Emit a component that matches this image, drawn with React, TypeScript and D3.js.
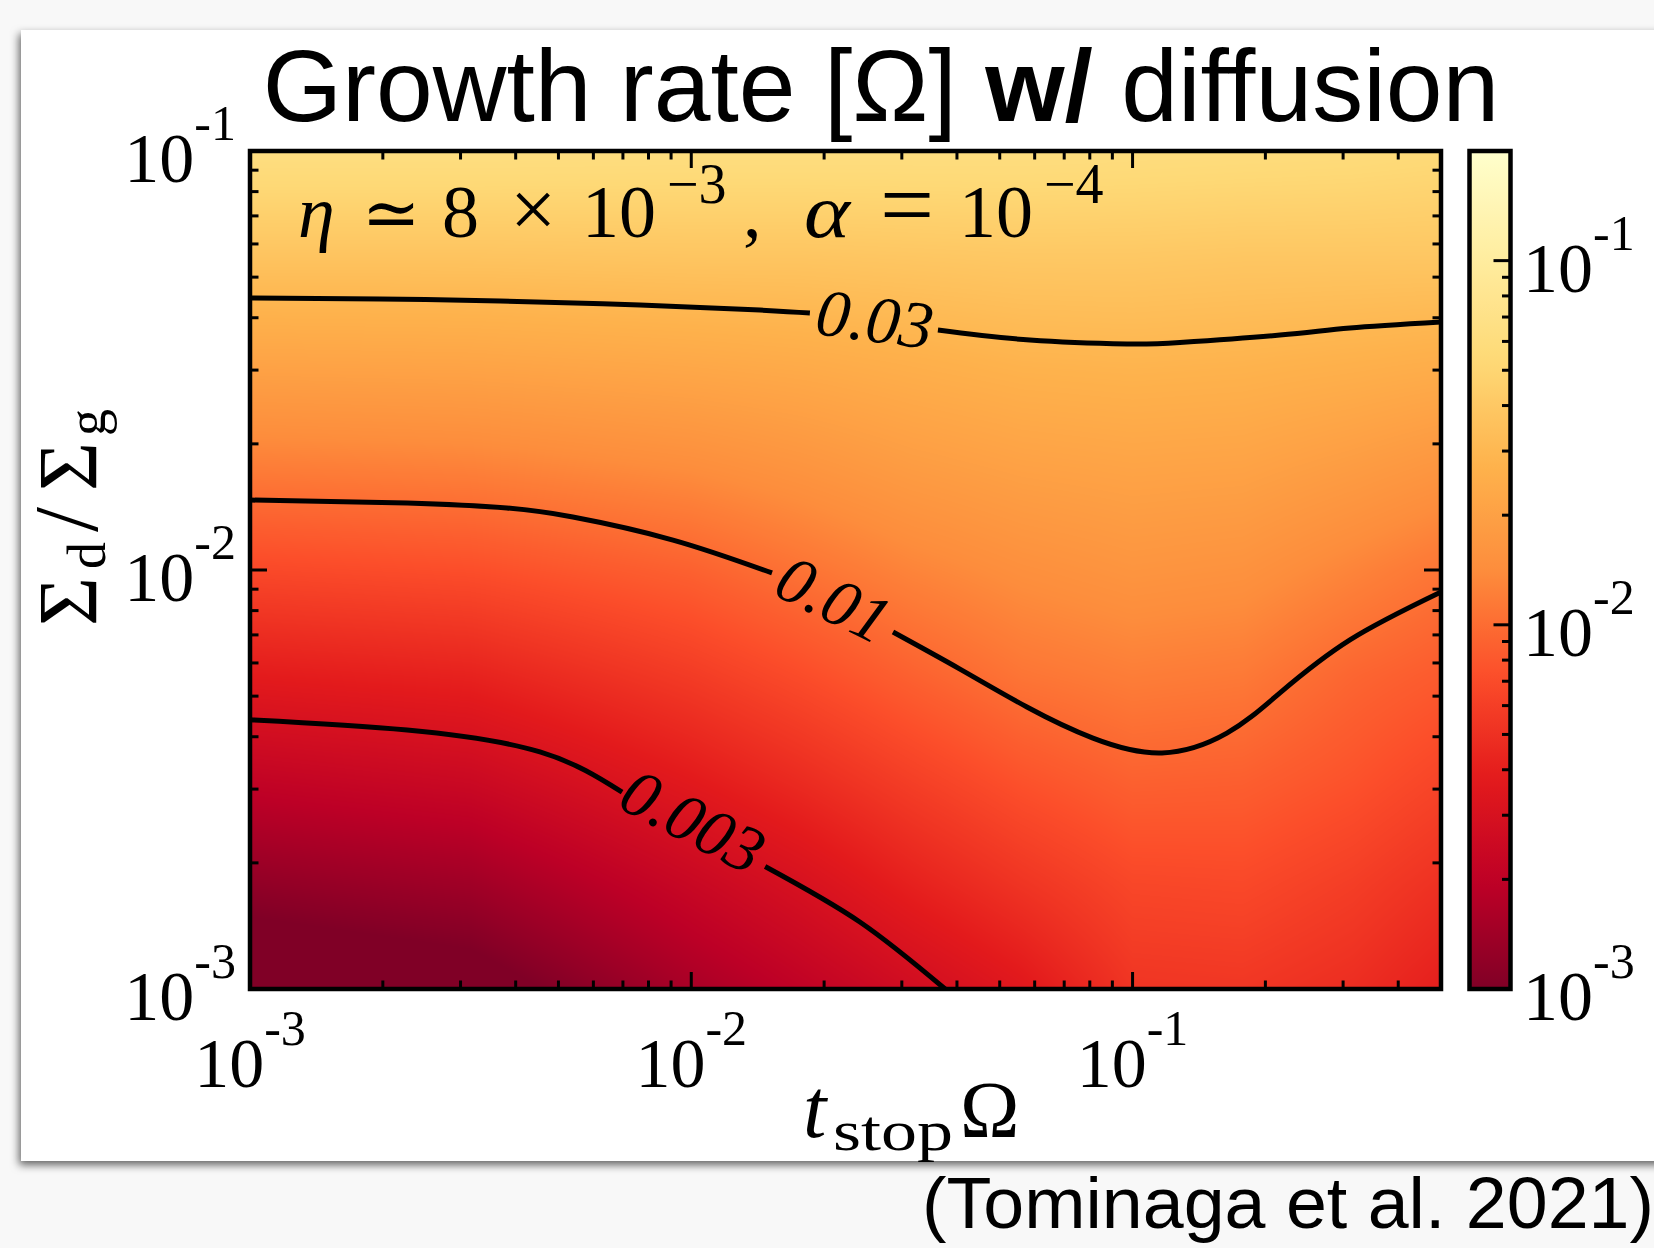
import React, { useMemo } from 'react';
import * as d3 from 'd3';

const WIDTH = 1654;
const HEIGHT = 1248;

// ---------- data ----------
// grid of log10(t_stop Omega) (columns) and log10(Sigma_d/Sigma_g) (rows)
const gridLogT = [-3, -2.5, -2, -1.75, -1.5, -1.25, -1, -0.75, -0.5, -0.3];
const gridLogSigma = [-3, -2.75, -2.5, -2.25, -2, -1.75, -1.5, -1.25, -1];
// log10(growth rate), one row per gridLogSigma value (bottom -> top)
const logRateS300 = [-3.17, -3.09, -2.81, -2.69, -2.57, -2.45, -2.28, -2.27, -2.32, -2.4];
const logRateS275 = [-2.92, -2.85, -2.63, -2.52, -2.39, -2.28, -2.18, -2.17, -2.23, -2.3];
const logRateS250 = [-2.67, -2.61, -2.43, -2.33, -2.22, -2.12, -2.05, -2.06, -2.12, -2.19];
const logRateS225 = [-2.42, -2.38, -2.24, -2.15, -2.05, -1.96, -1.92, -1.94, -2.03, -2.08];
const logRateS200 = [-2.17, -2.14, -2.05, -1.97, -1.89, -1.83, -1.79, -1.81, -1.89, -1.96];
const logRateS175 = [-1.92, -1.9, -1.84, -1.79, -1.73, -1.69, -1.67, -1.68, -1.73, -1.78];
const logRateS150 = [-1.67, -1.66, -1.63, -1.61, -1.58, -1.55, -1.54, -1.55, -1.57, -1.59];
const logRateS125 = [-1.43, -1.43, -1.42, -1.42, -1.41, -1.4, -1.4, -1.41, -1.41, -1.41];
const logRateS100 = [-1.2, -1.2, -1.21, -1.21, -1.21, -1.21, -1.22, -1.23, -1.24, -1.26];
const logRateRows = [logRateS300, logRateS275, logRateS250, logRateS225, logRateS200, logRateS175, logRateS150, logRateS125, logRateS100];

// contour lines (t_stop Omega, Sigma_d/Sigma_g), split where the label sits
const c003T_a = [0.001, 0.00227, 0.00454, 0.00697];
const c003S_a = [0.00439, 0.00415, 0.00368, 0.00295];
const c003T_b = [0.0147, 0.0241, 0.0376];
const c003S_b = [0.00196, 0.001445, 0.001];
const c003Label = [0.0101, 0.00252];

const c01T_a = [0.001, 0.00227, 0.00382, 0.00539, 0.00909, 0.01524];
const c01S_a = [0.01469, 0.01445, 0.01406, 0.01338, 0.01179, 0.00984];
const c01T_b = [0.02865, 0.04063, 0.05762, 0.08133, 0.1166, 0.1636, 0.2158, 0.3109, 0.5];
const c01S_b = [0.00711, 0.0058, 0.00471, 0.00397, 0.00366, 0.00408, 0.00509, 0.00681, 0.00886];
const c01Label = [0.02105, 0.00853];

const c03T_a = [0.001, 0.00197, 0.00369, 0.00765, 0.01431, 0.01857];
const c03S_a = [0.04457, 0.04433, 0.04385, 0.0429, 0.04173, 0.04105];
const c03T_b = [0.03622, 0.05853, 0.09712, 0.128, 0.2158, 0.3109, 0.5];
const c03S_b = [0.03739, 0.03539, 0.03463, 0.03491, 0.03637, 0.03781, 0.03907];
const c03Label = [0.02607, 0.03979];

const contourLabels = ['0.003', '0.01', '0.03'];

const xMajorTicks = [1e-3, 1e-2, 1e-1];
const xMajorExps = ['-3', '-2', '-1'];
const yMajorTicks = [1e-3, 1e-2, 1e-1];
const yMajorExps = ['-3', '-2', '-1'];
const cbMajorTicks = [1e-3, 1e-2, 1e-1];
const cbMajorExps = ['-3', '-2', '-1'];

const rateMin = 1e-3;
const rateMax = 0.2;
const tMin = 1e-3;
const tMax = 0.5;
const sMin = 1e-3;
const sMax = 1e-1;

// matplotlib YlOrRd (light -> dark), used reversed
const ylOrRd = ['#ffffcc', '#ffeda0', '#fed976', '#feb24c', '#fd8d3c', '#fc4e2a', '#e31a1c', '#bd0026', '#800026'];

const SERIF = "'Liberation Serif', 'Times New Roman', 'DejaVu Serif', serif";
const SANS = "'Liberation Sans', Arial, Helvetica, sans-serif";

const PL = 250, PR = 1441, PT = 151, PB = 989;
const CBL = 1469.5, CBR = 1510.5;

function zip(a: number[], b: number[]): [number, number][] {
  return a.map((v, i) => [v, b[i]] as [number, number]);
}

function findCell(arr: number[], v: number): [number, number] {
  let i = d3.bisectRight(arr, v) - 1;
  if (i < 0) i = 0;
  if (i > arr.length - 2) i = arr.length - 2;
  let f = (v - arr[i]) / (arr[i + 1] - arr[i]);
  f = Math.max(0, Math.min(1, f));
  return [i, f];
}

export default function App() {
  const x = d3.scaleLog().domain([tMin, tMax]).range([PL, PR]);
  const y = d3.scaleLog().domain([sMin, sMax]).range([PB, PT]);
  const cb = d3.scaleLog().domain([rateMin, rateMax]).range([PB, PT]);
  const norm = d3.scaleLog().domain([rateMin, rateMax]).range([0, 1]).clamp(true);
  const cmap = d3
    .scaleLinear<string>()
    .domain(ylOrRd.map((_, i) => i / (ylOrRd.length - 1)))
    .range([...ylOrRd].reverse())
    .interpolate(d3.interpolateRgb)
    .clamp(true);

  const heatHref = useMemo(() => {
    const w = Math.round(PR - PL);
    const h = Math.round(PB - PT);
    const canvas = document.createElement('canvas');
    canvas.width = w;
    canvas.height = h;
    const ctx = canvas.getContext('2d');
    if (!ctx) return '';
    const img = ctx.createImageData(w, h);
    const N = 1024;
    const lut = d3.range(N).map((i) => {
      const c = d3.rgb(cmap(i / (N - 1)));
      return [c.r, c.g, c.b];
    });
    const colInfo = d3.range(w).map((i) => findCell(gridLogT, Math.log10(x.invert(PL + i + 0.5))));
    for (let j = 0; j < h; j++) {
      const ly = Math.log10(y.invert(PT + j + 0.5));
      const [r, fr] = findCell(gridLogSigma, ly);
      const row0 = logRateRows[r];
      const row1 = logRateRows[r + 1];
      for (let i = 0; i < w; i++) {
        const [c, fc] = colInfo[i];
        const v00 = row0[c], v01 = row0[c + 1], v10 = row1[c], v11 = row1[c + 1];
        const L = (v00 * (1 - fc) + v01 * fc) * (1 - fr) + (v10 * (1 - fc) + v11 * fc) * fr;
        const n = norm(Math.pow(10, L));
        const col = lut[Math.round(n * (N - 1))];
        const k = (j * w + i) * 4;
        img.data[k] = col[0];
        img.data[k + 1] = col[1];
        img.data[k + 2] = col[2];
        img.data[k + 3] = 255;
      }
    }
    ctx.putImageData(img, 0, 0);
    return canvas.toDataURL();
  }, []);

  const line = d3
    .line<[number, number]>()
    .x((d) => x(d[0]))
    .y((d) => y(d[1]))
    .curve(d3.curveNatural);

  const contours = [
    { a: zip(c003T_a, c003S_a), b: zip(c003T_b, c003S_b), label: c003Label, text: contourLabels[0] },
    { a: zip(c01T_a, c01S_a), b: zip(c01T_b, c01S_b), label: c01Label, text: contourLabels[1] },
    { a: zip(c03T_a, c03S_a), b: zip(c03T_b, c03S_b), label: c03Label, text: contourLabels[2] },
  ];

  const isMajor = (v: number) => Math.abs(Math.log10(v) - Math.round(Math.log10(v))) < 1e-6;
  const xTicks = x.ticks();
  const yTicks = y.ticks();
  const cbTicks = cb.ticks().filter((v) => v < rateMax * 0.999);
  const MAJ = 17;
  const MIN = 8.5;

  const gradStops = d3.range(0, 1.0001, 0.02);

  return (
    <svg width={WIDTH} height={HEIGHT} style={{ position: 'absolute', left: 0, top: 0 }} xmlns="http://www.w3.org/2000/svg">
      <defs>
        <filter id="cardShadow" x="-5%" y="-5%" width="115%" height="115%">
          <feDropShadow dx={-2} dy={4} stdDeviation={4.5} floodColor="#000" floodOpacity={0.6} />
        </filter>
        <linearGradient id="cbGrad" x1="0" y1="1" x2="0" y2="0">
          {gradStops.map((s) => (
            <stop key={s} offset={s} stopColor={cmap(s)} />
          ))}
        </linearGradient>
        <clipPath id="plotClip">
          <rect x={PL} y={PT} width={PR - PL} height={PB - PT} />
        </clipPath>
      </defs>
      <rect x={0} y={0} width={WIDTH} height={HEIGHT} fill="#f8f8f8" />
      <rect x={21} y={30} width={1720} height={1131} fill="#ffffff" filter="url(#cardShadow)" />

      {/* Title */}
      <text x={881} y={121} textAnchor="middle" fontFamily={SANS} fontSize={102} fill="#000">
        Growth rate [Ω]{' '}
        <tspan fontWeight="bold">w/</tspan> diffusion
      </text>

      {/* heatmap */}
      {heatHref && (
        <image href={heatHref} x={PL} y={PT} width={PR - PL} height={PB - PT} preserveAspectRatio="none" />
      )}

      {/* contours */}
      <g clipPath="url(#plotClip)" fill="none" stroke="#000" strokeWidth={5}>
        {contours.map((c, i) => (
          <g key={i}>
            <path d={line(c.a) || ''} />
            <path d={line(c.b) || ''} />
          </g>
        ))}
      </g>
      {contours.map((c, i) => {
        const pa = c.a[c.a.length - 1];
        const pb = c.b[0];
        const ang = (Math.atan2(y(pb[1]) - y(pa[1]), x(pb[0]) - x(pa[0])) * 180) / Math.PI;
        const lx = x(c.label[0]);
        const ly = y(c.label[1]);
        return (
          <text
            key={'l' + i}
            x={lx}
            y={ly}
            transform={`rotate(${ang} ${lx} ${ly})`}
            textAnchor="middle"
            dominantBaseline="central"
            fontFamily={SERIF}
            fontStyle="italic"
            fontSize={67}
            fill="#000"
          >
            {c.text}
          </text>
        );
      })}

      {/* annotation */}
      <g fontFamily={SERIF} fill="#000">
        <text x={298} y={237} fontSize={74} fontStyle="italic">η</text>
        <text x={362} y={237} fontSize={70} fontFamily="'DejaVu Serif', serif">≃</text>
        <text x={442} y={237} fontSize={74}>8</text>
        <text x={510} y={237} fontSize={82}>×</text>
        <text x={582} y={237} fontSize={74}>10</text>
        <text x={667} y={203} fontSize={56}>−3</text>
        <text x={743} y={237} fontSize={74}>,</text>
        <text x={804} y={237} fontSize={76} fontStyle="italic" textLength={46} lengthAdjust="spacingAndGlyphs">α</text>
        <text x={880} y={237} fontSize={96}>=</text>
        <text x={959} y={237} fontSize={74}>10</text>
        <text x={1044} y={203} fontSize={56}>−4</text>
      </g>

      {/* frame */}
      <rect x={PL} y={PT} width={PR - PL} height={PB - PT} fill="none" stroke="#000" strokeWidth={4.5} />

      {/* ticks */}
      <g stroke="#000" strokeWidth={3}>
        {xTicks.map((v, i) => {
          const len = isMajor(v) ? MAJ : MIN;
          const px = x(v);
          return (
            <g key={'xt' + i}>
              <line x1={px} x2={px} y1={PB} y2={PB - len} />
              <line x1={px} x2={px} y1={PT} y2={PT + len} />
            </g>
          );
        })}
        {yTicks.map((v, i) => {
          const len = isMajor(v) ? MAJ : MIN;
          const py = y(v);
          return (
            <g key={'yt' + i}>
              <line x1={PL} x2={PL + len} y1={py} y2={py} />
              <line x1={PR} x2={PR - len} y1={py} y2={py} />
            </g>
          );
        })}
      </g>

      {/* tick labels */}
      <g fontFamily={SERIF} fill="#000">
        {xMajorTicks.map((v, i) => (
          <text key={'xl' + i} x={x(v)} y={1087} textAnchor="middle" fontSize={70}>
            10<tspan fontSize={50} dy={-42}>{xMajorExps[i]}</tspan>
          </text>
        ))}
        {yMajorTicks.map((v, i) => (
          <text key={'yl' + i} x={236} y={y(v) + 31} textAnchor="end" fontSize={70}>
            10<tspan fontSize={50} dy={-42}>{yMajorExps[i]}</tspan>
          </text>
        ))}
        {cbMajorTicks.map((v, i) => (
          <text key={'cl' + i} x={1523} y={cb(v) + 31} textAnchor="start" fontSize={70}>
            10<tspan fontSize={50} dy={-42}>{cbMajorExps[i]}</tspan>
          </text>
        ))}
      </g>

      {/* colorbar */}
      <rect x={CBL} y={PT} width={CBR - CBL} height={PB - PT} fill="url(#cbGrad)" stroke="#000" strokeWidth={4.5} />
      <g stroke="#000" strokeWidth={3}>
        {cbTicks.map((v, i) => {
          const len = isMajor(v) ? MAJ : MIN;
          const py = cb(v);
          return <line key={'cbt' + i} x1={CBR} x2={CBR - len} y1={py} y2={py} />;
        })}
      </g>

      {/* axis labels */}
      <g fontFamily={SERIF} fill="#000">
        <text x={803} y={1137} fontSize={84} fontStyle="italic">t</text>
        <text x={833} y={1150} fontSize={58} textLength={120} lengthAdjust="spacingAndGlyphs">stop</text>
        <text x={960} y={1137} fontSize={80}>Ω</text>
      </g>
      <g transform="translate(97,0) rotate(-90)" fontFamily={SERIF} fill="#000">
        <text x={-626} y={0} fontSize={84}>Σ</text>
        <text x={-569} y={8} fontSize={54}>d</text>
        <text x={-532} y={0} fontSize={90}>/</text>
        <text x={-491} y={0} fontSize={84}>Σ</text>
        <text x={-436} y={8} fontSize={54}>g</text>
      </g>

      {/* citation */}
      <text x={922} y={1228} fontFamily={SANS} fontSize={72} textLength={732} lengthAdjust="spacingAndGlyphs" fill="#000">
        (Tominaga et al. 2021)
      </text>
    </svg>
  );
}
